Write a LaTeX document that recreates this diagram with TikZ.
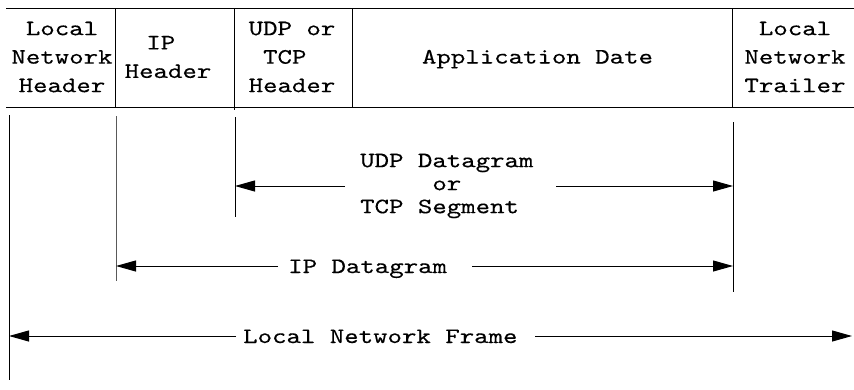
\documentclass[tikz,border=0pt]{standalone}
\usepackage{fontspec}
\newfontfamily\cour{lmmono10-regular.otf}[FakeStretch=1.25,FakeBold=0.3]
\usetikzlibrary{arrows.meta}
\begin{document}
\begin{tikzpicture}[x=1pt,y=-1pt,
  lbl/.style={font=\cour\fontsize{22}{28.5}\selectfont, inner sep=0pt, align=center},
  mid/.style={font=\cour\fontsize{22}{23}\selectfont, inner sep=0pt, align=left},
  rule/.style={line width=1pt},
  arr/.style={line width=1pt, -{Triangle[length=20pt,width=11pt]}}]
\useasboundingbox (0,0) rectangle (854,389);
% header strip
\draw[rule] (6,8) -- (854,8);
\draw[rule] (6,107) -- (854,107);
\draw[rule] (115,8) -- (115,107);
\draw[rule] (234,8) -- (234,110);
\draw[rule] (352,8) -- (352,107);
\draw[rule] (732,8) -- (732,107);
\node[lbl] (lnh) at (62,57) {Local\\Network\\Header};
\node[lbl] (iph) at (168,57) {IP\hphantom{x}\\Header};
\node[lbl] (udph) at (292,57) {UDP or\\TCP\hphantom{x}\\Header};
\node[lbl, anchor=base] (app) at (537.5,63.5) {Application Date};
\node[lbl] (trl) at (795,57) {Local\\Network\\Trailer};
% vertical extents
\coordinate (v1t) at (9,115);   \coordinate (v1b) at (9,380);
\coordinate (v2t) at (116,116); \coordinate (v2b) at (116,281);
\coordinate (v3t) at (235,117); \coordinate (v3b) at (235,217);
\coordinate (v4t) at (733,122); \coordinate (v4b) at (733,292);
\draw[rule] (v1t) -- (v1b);
\draw[rule, black!65] (v2t) -- (v2b);
\draw[rule] (v3t) -- (v3b);
\draw[rule] (v4t) -- (v4b);
% UDP / TCP
\node[mid, anchor=west] (udpt) at (360,186) {UDP Datagram\\\hphantom{UDP D}or\\TCP Segment};
\coordinate (u1) at (345,186); \coordinate (u1e) at (235,186);
\coordinate (u2) at (556,186); \coordinate (u2e) at (733,186);
\draw[arr] (u1) -- (u1e);
\draw[arr] (u2) -- (u2e);
% IP datagram
\node[lbl, anchor=base west] (ipd) at (288,273) {IP Datagram};
\coordinate (i1) at (278,266); \coordinate (i1e) at (116,266);
\coordinate (i2) at (472,266); \coordinate (i2e) at (733,266);
\draw[arr] (i1) -- (i1e);
\draw[arr] (i2) -- (i2e);
% local network frame
\node[lbl, anchor=base west] (lnf) at (243,343) {Local Network Frame};
\coordinate (f1) at (236,336); \coordinate (f1e) at (9,336);
\coordinate (f2) at (535,336); \coordinate (f2e) at (852,336);
\draw[arr] (f1) -- (f1e);
\draw[arr] (f2) -- (f2e);
\end{tikzpicture}
\end{document}
